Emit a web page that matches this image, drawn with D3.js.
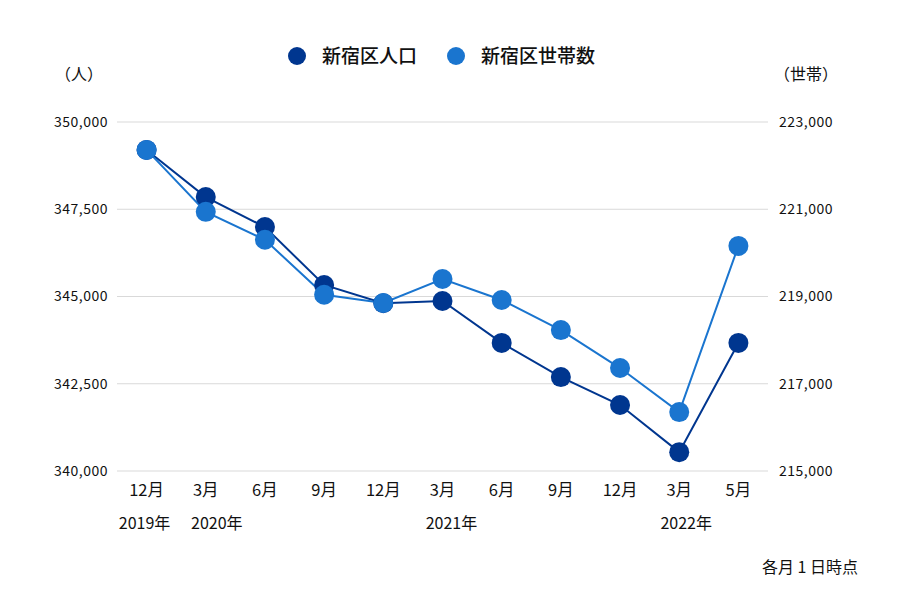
<!DOCTYPE html>
<html><head><meta charset="utf-8">
<script src="https://cdn.jsdelivr.net/npm/d3@7"></script>
<style>
body{margin:0;background:#fff;}
text{font-family:"Noto Sans CJK JP","Noto Sans",sans-serif;fill:#111;}
</style></head>
<body><svg id="chart" width="900" height="600"></svg>
<script>
const categories = ["12月","3月","6月","9月","12月","3月","6月","9月","12月","3月","5月"];
const yearLabels = [
  {idx:0, text:"2019年", dx:-2},
  {idx:1, text:"2020年", dx:11},
  {idx:5, text:"2021年", dx:9},
  {idx:9, text:"2022年", dx:7}
];
const population = [349200, 347850, 346990, 345330, 344810, 344870, 343670, 342690, 341890, 340540, 343670];
const households = [222360, 220940, 220300, 219040, 218850, 219400, 218920, 218230, 217360, 216350, 220160];
const leftTicks = [340000, 342500, 345000, 347500, 350000];
const rightTicks = [215000, 217000, 219000, 221000, 223000];
const seriesNames = ["新宿区人口", "新宿区世帯数"];
const colors = ["#00368f", "#1a75cf"];

const svg = d3.select("#chart");
const plotL = 117, plotR = 768, plotT = 122, plotB = 471;

const x = d3.scalePoint().domain(d3.range(categories.length)).range([plotL, plotR]).padding(0.5);
const yL = d3.scaleLinear().domain([340000, 350000]).range([plotB, plotT]);
const yR = d3.scaleLinear().domain([215000, 223000]).range([plotB, plotT]);
const fmt = d3.format(",");

// gridlines
svg.append("g").selectAll("line").data(leftTicks).join("line")
  .attr("x1", plotL).attr("x2", plotR)
  .attr("y1", d => yL(d)).attr("y2", d => yL(d))
  .attr("stroke", "#d9d9d9").attr("stroke-width", 1);

// left axis labels
svg.append("g").selectAll("text").data(leftTicks).join("text")
  .attr("x", 108).attr("y", d => yL(d)).attr("dy", "0.35em")
  .attr("text-anchor", "end").attr("font-size", 14).attr("letter-spacing", 0.5).text(d => fmt(d));
// right axis labels
svg.append("g").selectAll("text").data(rightTicks).join("text")
  .attr("x", 779).attr("y", d => yR(d)).attr("dy", "0.35em")
  .attr("text-anchor", "start").attr("font-size", 14).attr("letter-spacing", 0.5).text(d => fmt(d));

// unit labels
svg.append("text").attr("x", 79).attr("y", 74).attr("dy","0.35em").attr("text-anchor","middle")
  .attr("font-size", 16).text("（人）");
svg.append("text").attr("x", 806).attr("y", 74).attr("dy","0.35em").attr("text-anchor","middle")
  .attr("font-size", 16).text("（世帯）");

// x labels
svg.append("g").selectAll("text").data(categories).join("text")
  .attr("x", (d,i) => x(i)).attr("y", 490).attr("dy","0.35em")
  .attr("text-anchor","middle").attr("font-size", 16.5).text(d => d);
svg.append("g").selectAll("text").data(yearLabels).join("text")
  .attr("x", d => x(d.idx) + d.dx).attr("y", 523).attr("dy","0.35em")
  .attr("text-anchor","middle").attr("font-size", 16).text(d => d.text);

svg.append("text").attr("x", 858).attr("y", 567).attr("dy","0.35em").attr("text-anchor","end")
  .attr("font-size", 16).text("各月 1 日時点");

// lines and points
const data = [population, households];
const scales = [yL, yR];
data.forEach((vals, s) => {
  const line = d3.line().x((d,i) => x(i)).y(d => scales[s](d));
  svg.append("path").datum(vals).attr("d", line)
    .attr("fill","none").attr("stroke", colors[s]).attr("stroke-width", 2);
});
data.forEach((vals, s) => {
  svg.append("g").selectAll("circle").data(vals).join("circle")
    .attr("cx", (d,i) => x(i)).attr("cy", d => scales[s](d)).attr("r", 10)
    .attr("fill", colors[s]);
});

// legend
const legendX = [297, 456];
seriesNames.forEach((n, s) => {
  svg.append("circle").attr("cx", legendX[s]).attr("cy", 56).attr("r", 9).attr("fill", colors[s]);
  svg.append("text").attr("x", legendX[s] + 25).attr("y", 56).attr("dy","0.35em")
    .attr("font-size", 19).attr("font-weight", 500).text(n);
});
</script></body></html>
